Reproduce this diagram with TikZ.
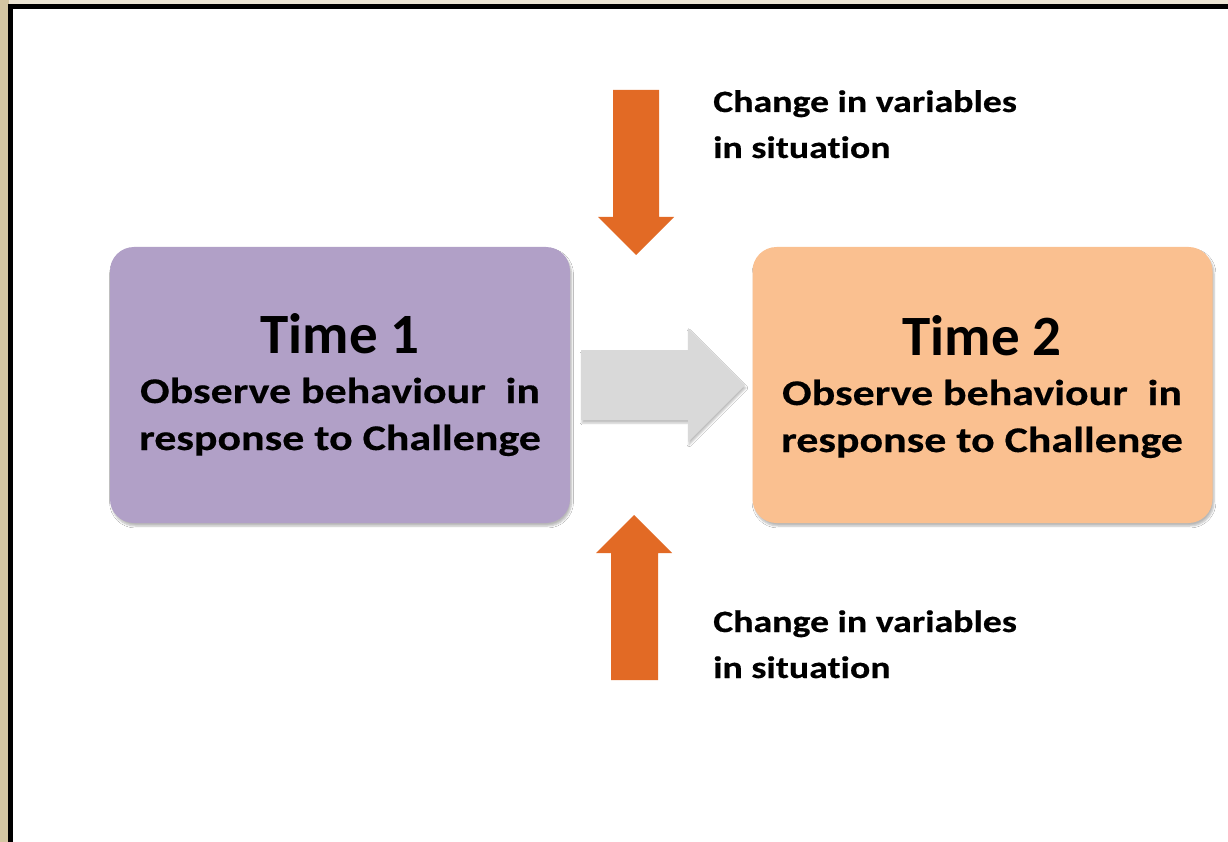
\documentclass[tikz,border=0pt]{standalone}
\usepackage{fontspec}
\setmainfont{Carlito}
\newfontfamily\widefont[FakeStretch=1.22, Ligatures=NoCommon, BoldFont={Carlito Bold},
  BoldFeatures={FakeStretch=1.22, FakeBold=0.4, Ligatures=NoCommon}]{Carlito}
\usetikzlibrary{shadows.blur}

\definecolor{paper}{HTML}{ECE5D4}
\definecolor{paperside}{HTML}{D4C6A2}
\definecolor{lilac}{HTML}{B1A0C7}
\definecolor{peach}{HTML}{FAC090}
\definecolor{rust}{HTML}{E26A25}
\definecolor{lightgrey}{HTML}{D9D9D9}

\tikzset{
  stagebox/.style={rounded corners=24pt, minimum width=460pt, minimum height=276pt,
    inner sep=0pt, blur shadow={shadow xshift=1.5pt, shadow yshift=-3pt,
    shadow blur steps=6, shadow opacity=28}},
  heading/.style={anchor=base, font=\bfseries\fontsize{57}{60}\selectfont, inner sep=0pt},
  bodytext/.style={anchor=base, font=\widefont\bfseries\fontsize{36}{47}\selectfont, inner sep=0pt},
  labeltext/.style={anchor=base west, font=\widefont\bfseries\fontsize{31}{46}\selectfont, inner sep=0pt},
  blockarrow/.style={fill=rust},
}

\begin{document}
\begin{tikzpicture}[x=1pt, y=-1pt]
  \useasboundingbox (0,0) rectangle (1228,842);
  \clip (0,0) rectangle (1228,842);

  % paper background and black frame
  \fill[paper] (0,0) rectangle (1228,842);
  \fill[paperside] (0,0) rectangle (9,842);
  \fill[white] (10,6) rectangle (1240,860);
  \draw[line width=5pt] (10.5,6.5) rectangle (1240,860);

  % the two observation stages
  \node[stagebox, fill=lilac] (t1) at (340,385) {};
  \node[stagebox, fill=peach] (t2) at (982.5,385) {};

  \node[heading] (t1h) at (340,353) {Time 1};
  \node[bodytext] (t1a) at (340,403) {Observe behaviour\ \ in};
  \node[bodytext] (t1b) at (340,450) {response to Challenge};

  \node[heading] (t2h) at (982,355) {Time 2};
  \node[bodytext] (t2a) at (982,405) {Observe behaviour\ \ in};
  \node[bodytext] (t2b) at (982,452) {response to Challenge};

  % grey block arrow from Time 1 to Time 2
  \fill[lightgrey, blur shadow={shadow xshift=1pt, shadow yshift=-3pt, shadow blur steps=4, shadow opacity=25}]
    (581,350) -- (688,350) -- (688,328) -- (745,385) -- (688,442) -- (688,420) -- (581,420) -- cycle;

  % changes in the situation, from above and below
  \fill[blockarrow] (613,90) -- (659,90) -- (659,217) -- (674,217) -- (636,255)
    -- (598,217) -- (613,217) -- cycle;
  \fill[blockarrow] (611,680) -- (611,553) -- (596,553) -- (634,515) -- (672,553)
    -- (658,553) -- (658,680) -- cycle;

  \node[labeltext] (topa) at (713,112) {Change in variables};
  \node[labeltext] (topb) at (713,158) {in situation};
  \node[labeltext] (bota) at (713,632) {Change in variables};
  \node[labeltext] (botb) at (713,678) {in situation};
\end{tikzpicture}
\end{document}
